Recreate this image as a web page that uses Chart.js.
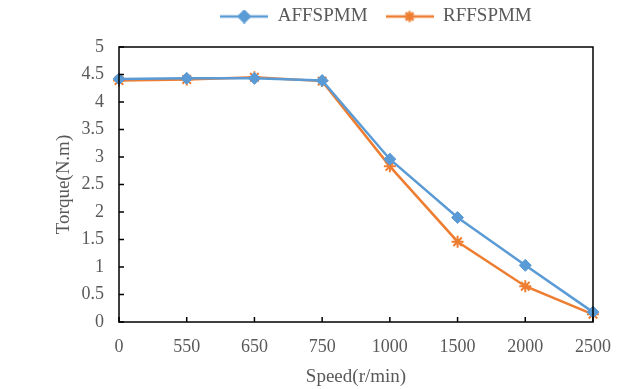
<!DOCTYPE html>
<html>
<head>
<meta charset="utf-8">
<script src="https://cdn.jsdelivr.net/npm/chart.js@4/dist/chart.umd.min.js"></script>
<style>
  html, body { margin: 0; padding: 0; background: #fff; }
  #wrap { width: 617px; height: 389px; }
</style>
</head>
<body>
<div id="wrap"><canvas id="torque"></canvas></div>
<script>
var speeds = ['0', '550', '650', '750', '1000', '1500', '2000', '2500'];
var affspmm = [4.42, 4.43, 4.43, 4.39, 2.96, 1.90, 1.03, 0.18];
var rffspmm = [4.39, 4.41, 4.45, 4.38, 2.83, 1.46, 0.65, 0.14];

var blue = '#5B9BD5';
var orange = '#ED7D31';
var textGray = '#595959';
var serif = "'Liberation Serif', 'Times New Roman', serif";

// legend swatch: short line with the marker in the middle
function swatch(color, style) {
  var c = document.createElement('canvas');
  c.width = 48; c.height = 14;
  var ctx = c.getContext('2d');
  ctx.strokeStyle = color;
  ctx.fillStyle = color;
  ctx.lineWidth = 2.5;
  ctx.beginPath();
  ctx.moveTo(0, 7); ctx.lineTo(48, 7);
  ctx.stroke();
  Chart.helpers.drawPoint(ctx, {pointStyle: style, radius: 5.5, borderWidth: 2}, 24, 7);
  if (style === 'rectRot') ctx.fill();
  return c;
}

// box round the plot plus inward tick marks
var frame = {
  id: 'frame',
  afterDatasetsDraw: function(chart) {
    var ctx = chart.ctx, a = chart.chartArea;
    var x = chart.scales.x, y = chart.scales.y;
    ctx.save();
    ctx.strokeStyle = '#000';
    ctx.lineWidth = 1.5;
    ctx.strokeRect(a.left, a.top, a.right - a.left, a.bottom - a.top);
    ctx.beginPath();
    y.ticks.forEach(function(t, i) {
      var py = y.getPixelForTick(i);
      ctx.moveTo(a.left, py); ctx.lineTo(a.left + 5, py);
    });
    x.ticks.forEach(function(t, i) {
      var px = x.getPixelForTick(i);
      ctx.moveTo(px, a.bottom); ctx.lineTo(px, a.bottom - 5);
    });
    ctx.stroke();
    ctx.restore();
  }
};

// legend sits a bit right of centre and high up, like the original
var legendSpot = {
  id: 'legendSpot',
  afterLayout: function(chart) {
    var lg = chart.legend;
    var dx = 376 - (lg.left + lg.right) / 2;
    lg.left += dx; lg.right += dx;
    lg.top -= 11; lg.bottom -= 11;
  }
};

var ctx = document.getElementById('torque');
var chart = new Chart(ctx, {
  type: 'line',
  data: {
    labels: speeds,
    datasets: [
      {
        label: 'AFFSPMM',
        data: affspmm,
        borderColor: blue,
        backgroundColor: blue,
        borderWidth: 2.5,
        pointStyle: 'rectRot',
        pointRadius: 6,
        pointBorderWidth: 1,
        tension: 0
      },
      {
        label: 'RFFSPMM',
        data: rffspmm,
        borderColor: orange,
        backgroundColor: orange,
        borderWidth: 2.5,
        pointStyle: 'star',
        pointRadius: 6,
        pointBorderWidth: 2,
        tension: 0
      }
    ]
  },
  options: {
    responsive: true,
    maintainAspectRatio: false,
    animation: false,
    layout: { padding: { left: 54, right: 22, top: 0, bottom: 0 } },
    plugins: {
      tooltip: { enabled: false },
      legend: {
        position: 'top',
        align: 'center',
        labels: {
          usePointStyle: true,
          pointStyleWidth: 48,
          color: textGray,
          font: { family: serif, size: 19 },
          padding: 18,
          generateLabels: function(chart) {
            return chart.data.datasets.map(function(ds, i) {
              return {
                text: ds.label,
                fontColor: textGray,
                pointStyle: swatch(ds.borderColor, ds.pointStyle),
                datasetIndex: i,
                lineWidth: 0,
                strokeStyle: 'transparent',
                fillStyle: 'transparent'
              };
            });
          }
        }
      }
    },
    scales: {
      x: {
        offset: false,
        grid: { display: false },
        border: { display: false },
        ticks: { color: textGray, font: { family: serif, size: 18 }, padding: 6, maxRotation: 0 },
        title: { display: true, text: 'Speed(r/min)', color: textGray, font: { family: serif, size: 19, lineHeight: 1.1 }, padding: { top: 0, bottom: 2 } },
        afterFit: function(s) { s.height = 67; }
      },
      y: {
        min: 0,
        max: 5,
        grid: { display: false },
        border: { display: false },
        ticks: {
          stepSize: 0.5,
          color: textGray,
          font: { family: serif, size: 18 },
          padding: 7,
          callback: function(v) { return String(v); }
        },
        title: { display: true, text: 'Torque(N.m)', color: textGray, font: { family: serif, size: 19, lineHeight: 1.1 }, padding: { top: 0, bottom: 0 } },
        afterFit: function(s) { s.width = 65; }
      }
    }
  },
  plugins: [frame, legendSpot]
});
</script>
</body>
</html>
